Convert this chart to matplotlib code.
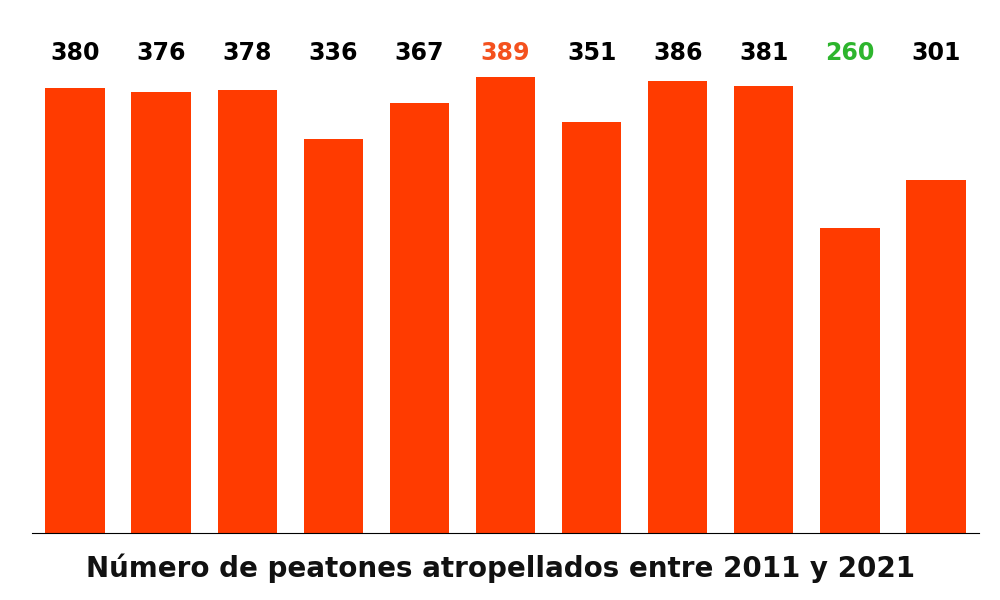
import matplotlib
matplotlib.use("Agg")
import matplotlib.pyplot as plt
import matplotlib.transforms as mtransforms

years = [2011, 2012, 2013, 2014, 2015, 2016, 2017, 2018, 2019, 2020, 2021]
values = [380, 376, 378, 336, 367, 389, 351, 386, 381, 260, 301]
label_colors = ["black"] * 11
label_colors[5] = "#F4511E"
label_colors[9] = "#2DB52D"
title = "Número de peatones atropellados entre 2011 y 2021"

fig = plt.figure(figsize=(10, 6), dpi=100)
ax = fig.add_axes([0.032, 1 - 533 / 600, 0.947, 456 / 600])
x = list(range(len(values)))
ax.bar(x, values, width=0.69, color="#FF3B00")
ax.set_xlim(-0.5, 10.5)
ax.set_ylim(0, 389)
trans = mtransforms.blended_transform_factory(ax.transData, ax.transAxes)
for xi, v, c in zip(x, values, label_colors):
    ax.text(xi, (533 - 53) / 456, str(v), transform=trans, ha="center", va="center",
            fontsize=17, fontweight="bold", color=c)
for s in ["top", "left", "right"]:
    ax.spines[s].set_visible(False)
ax.spines["bottom"].set_linewidth(0.8)
ax.set_xticks([])
ax.set_yticks([])
fig.text(0.5, 1 - 568 / 600, title, ha="center", va="center", fontsize=20,
         fontweight="bold", color="#111111")
fig.savefig("out.png", dpi=100, facecolor="white")
